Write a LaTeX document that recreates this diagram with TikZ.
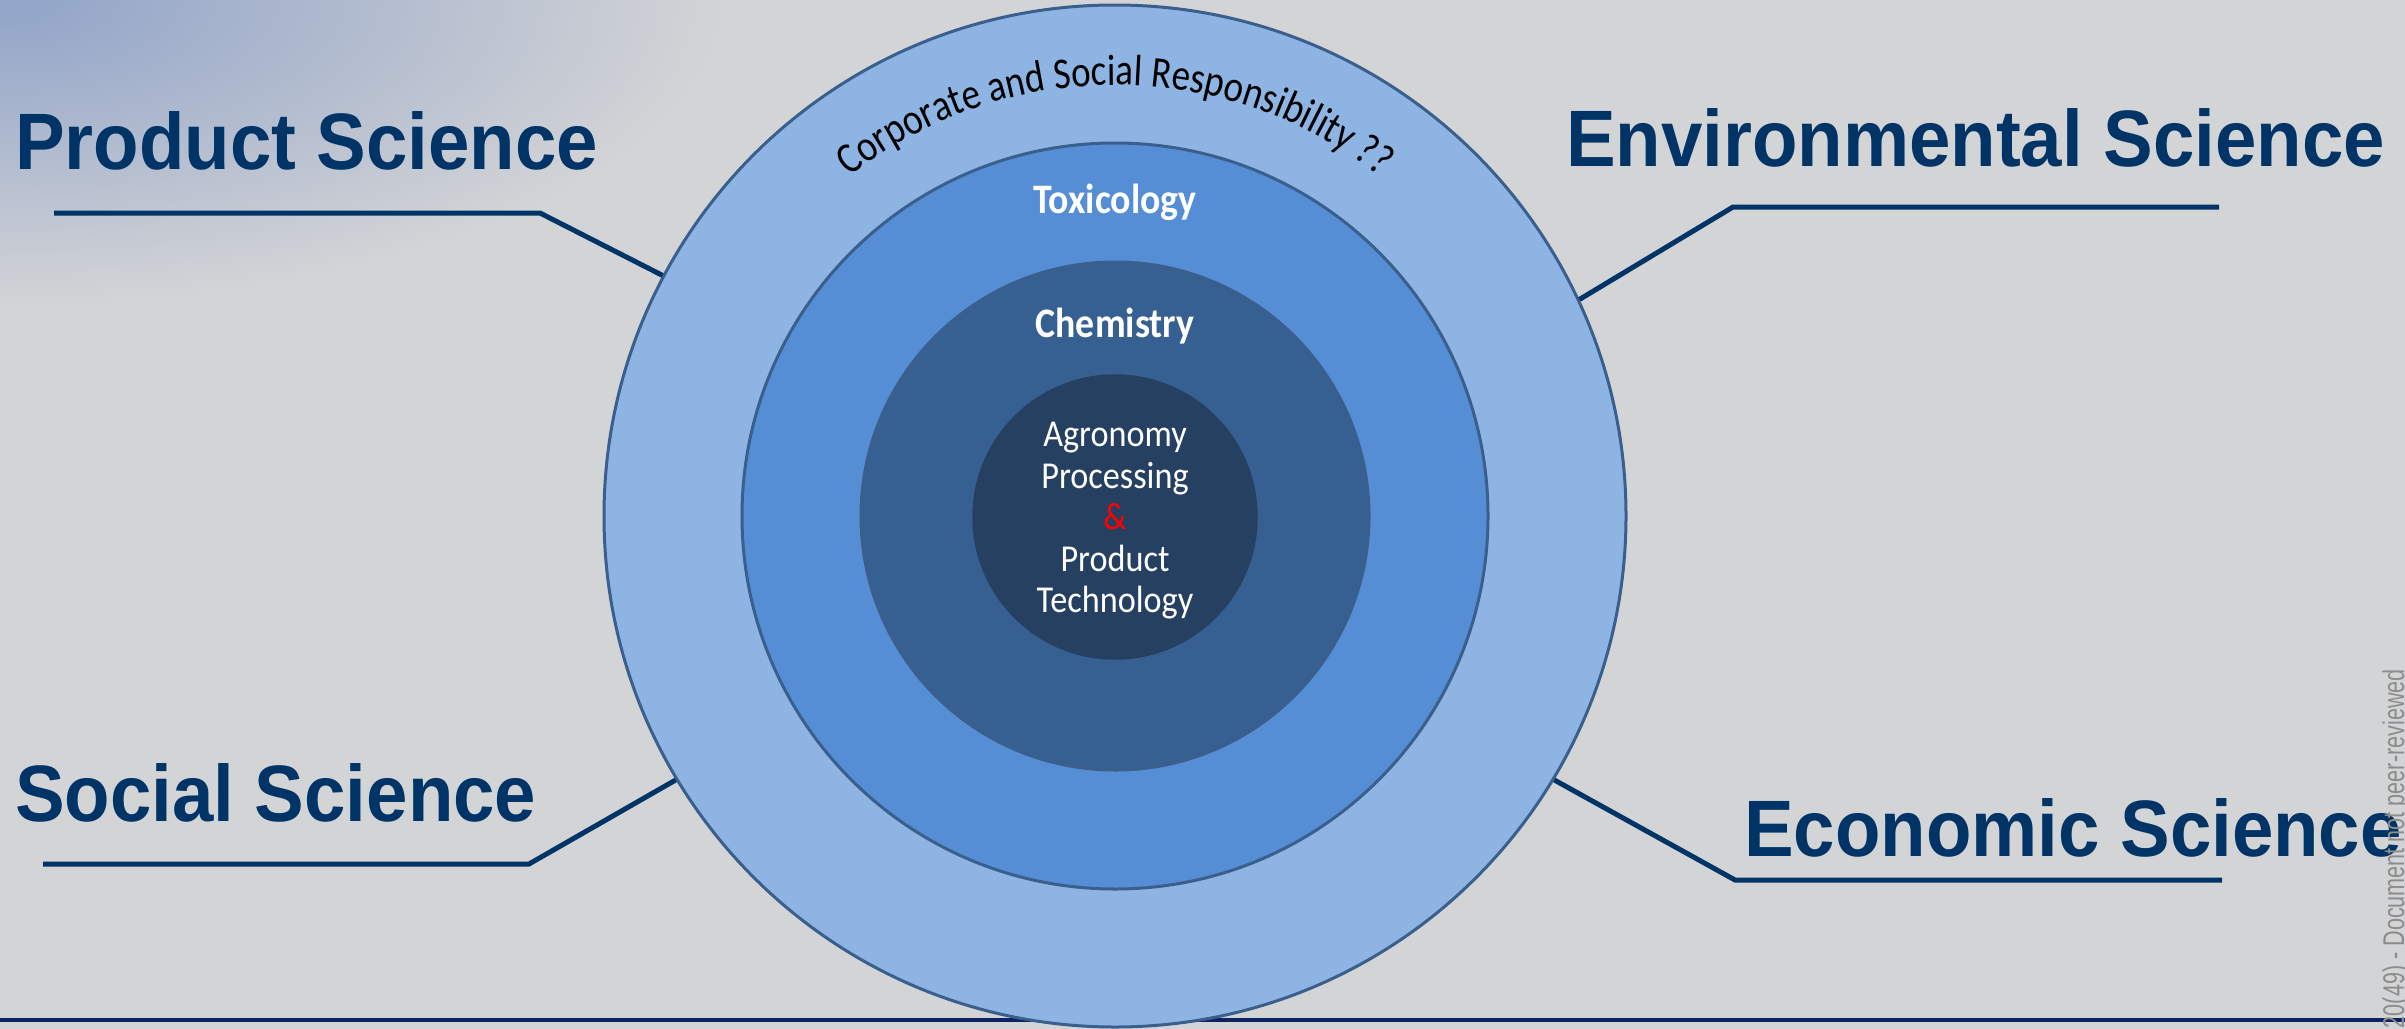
\documentclass[tikz,border=0pt]{standalone}
\usepackage{fontspec}
\setmainfont{Liberation Sans}
\newfontfamily\labelfont[FakeStretch=0.93]{Liberation Sans}
\newfontfamily\wmfont[FakeStretch=0.72]{Liberation Sans}
\newfontfamily\calfont[FakeStretch=0.9]{Carlito}
\newfontfamily\arcfont[FakeStretch=0.84]{Carlito}
\usetikzlibrary{decorations.text}
\definecolor{bggrey}{HTML}{D3D4D6}
\definecolor{cornerblue}{HTML}{94A6C9}
\definecolor{ringA}{HTML}{8EB4E3}
\definecolor{ringB}{HTML}{558ED5}
\definecolor{ringC}{HTML}{376092}
\definecolor{ringD}{HTML}{254061}
\definecolor{ringline}{HTML}{3A5F8D}
\definecolor{labblue}{HTML}{003366}
\definecolor{navyline}{HTML}{0D2260}
\definecolor{wmgrey}{HTML}{8C8C8C}
\pgfdeclareradialshading{cornershade}{\pgfpoint{0bp}{0bp}}{color(0bp)=(cornerblue); color(0.4bp)=(cornerblue); color(7bp)=(bggrey); color(25bp)=(bggrey); color(50bp)=(bggrey)}
\tikzset{
  lab/.style={font=\labelfont\bfseries\fontsize{80}{90}\selectfont, text=labblue, inner sep=0, anchor=base west},
  conn/.style={draw=labblue, line width=5pt},
  ring/.style={circle, draw=ringline, line width=3pt, inner sep=0},
  ringtitle/.style={font=\calfont\bfseries\fontsize{42}{48}\selectfont, text=white, inner sep=0, anchor=base},
}
\begin{document}
\begin{tikzpicture}[x=1pt,y=1pt]
\useasboundingbox (0,0) rectangle (2405,-1028);
\clip (0,0) rectangle (2405,-1028);
% background with bluish top-left corner
\fill[shading=cornershade] (-2600,1100) rectangle (2600,-1100);
% bottom rule
\draw[line width=4pt, navyline] (0,-1020) -- (2405,-1020);
% rings
\node[ring, fill=ringA, minimum size=1022pt] (outer) at (1115,-516) {};
\node[ring, fill=ringB, minimum size=746pt] (tox) at (1115,-516) {};
\node[ring, fill=ringC, minimum size=508pt] (chem) at (1115,-516) {};
\node[circle, inner sep=0, draw=ringD, line width=1.5pt, fill=ringD, minimum size=284pt] (core) at (1115,-517) {};
% ring texts
\path[decorate, decoration={text along path, text align=center,
  text={|\arcfont\fontsize{44}{44}\selectfont|Corporate and Social Responsibility ??}}]
  ([shift={(128:431)}]outer.center) arc[start angle=128, end angle=52, radius=431];
\node[ringtitle] (toxt) at (1115,-213) {Toxicology};
\node[ringtitle] (chemt) at (1115,-337) {Chemistry};
\node[font=\calfont\fontsize{38}{41.5}\selectfont, text=white, align=center, inner sep=0] (coret) at (1115,-521)
  {Agronomy\\Processing\\\textcolor{red}{\&}\\Product\\Technology};
% side labels
\node[lab] (ps) at (15,-169) {Product Science};
\node[lab] (es) at (1566,-166) {Environmental Science};
\node[lab] (ss) at (15,-821) {Social Science};
\node[lab] (ecs) at (1744,-856) {Economic Science};
% connectors
\coordinate (psA) at (54,-213);  \coordinate (psB) at (540,-213);
\coordinate (esA) at (2219,-207); \coordinate (esB) at (1733,-207);
\coordinate (ssA) at (43,-864);  \coordinate (ssB) at (529,-864);
\coordinate (ecA) at (2222,-880); \coordinate (ecB) at (1735,-880);
\draw[conn] (psA) -- (psB) -- (outer.152.4);
\draw[conn] (esA) -- (esB) -- (outer.25.8);
\draw[conn] (ssA) -- (ssB) -- (outer.211.2);
\draw[conn] (ecA) -- (ecB) -- (outer.-31);
% watermark
\node[rotate=90, anchor=base east, font=\wmfont\fontsize{30}{30}\selectfont, text=wmgrey, inner sep=0] (wm) at (2404,-669)
  {20(49) - Document not peer-reviewed};
\end{tikzpicture}
\end{document}
